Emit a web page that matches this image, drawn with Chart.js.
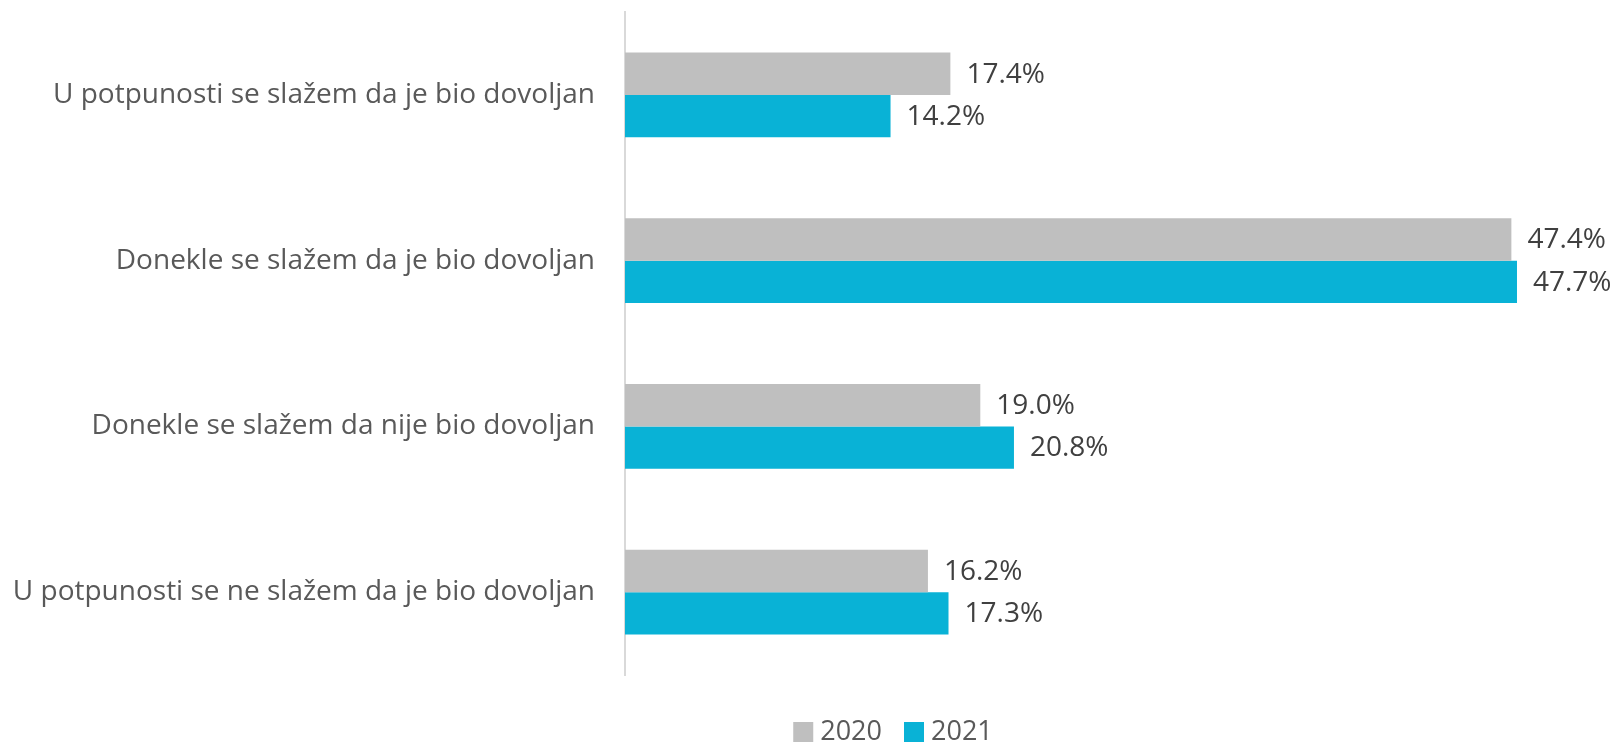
<!DOCTYPE html>
<html>
<head>
<meta charset="utf-8">
<script src="https://cdn.jsdelivr.net/npm/chart.js@4/dist/chart.umd.min.js"></script>
<style>
  html, body { margin: 0; padding: 0; background: #ffffff; }
  #wrap { width: 1617px; height: 744px; position: relative; }
</style>
</head>
<body>
<div id="wrap"><canvas id="c" width="1617" height="744"></canvas></div>
<script>
const categories = [
  "U potpunosti se slažem da je bio dovoljan",
  "Donekle se slažem da je bio dovoljan",
  "Donekle se slažem da nije bio dovoljan",
  "U potpunosti se ne slažem da je bio dovoljan"
];
const seriesNames = ["2020", "2021"];
const values2020 = [17.4, 47.4, 19.0, 16.2];
const values2021 = [14.2, 47.7, 20.8, 17.3];

const FONT = "'Open Sans', 'DejaVu Sans', sans-serif";

const valueLabels = {
  id: 'valueLabels',
  afterDatasetsDraw(chart) {
    const ctx = chart.ctx;
    ctx.save();
    ctx.font = "28px " + FONT;
    ctx.fillStyle = '#404040';
    ctx.textAlign = 'left';
    ctx.textBaseline = 'middle';
    chart.data.datasets.forEach((ds, i) => {
      const meta = chart.getDatasetMeta(i);
      meta.data.forEach((bar, j) => {
        ctx.fillText(ds.data[j].toFixed(1) + '%', bar.x + 16, bar.y + 1);
      });
    });
    ctx.restore();
  }
};

const customLegend = {
  id: 'customLegend',
  afterDraw(chart) {
    const ctx = chart.ctx;
    ctx.save();
    ctx.font = "27px " + FONT;
    ctx.textBaseline = 'middle';
    ctx.textAlign = 'left';
    const box = 20, gapText = 7, gapItem = 22;
    const items = chart.data.datasets.map(ds => ({
      text: ds.label, color: ds.backgroundColor, w: ctx.measureText(ds.label).width
    }));
    let total = 0;
    items.forEach((it, i) => { total += box + gapText + it.w + (i ? gapItem : 0); });
    const center = 893, yMid = 732;
    let x = center - total / 2;
    items.forEach(it => {
      ctx.fillStyle = it.color;
      ctx.fillRect(x, yMid - box / 2, box, box);
      x += box + gapText;
      ctx.fillStyle = '#595959';
      ctx.fillText(it.text, x, yMid);
      x += it.w + gapItem;
    });
    ctx.restore();
  }
};

new Chart(document.getElementById('c'), {
  type: 'bar',
  data: {
    labels: categories,
    datasets: [
      { label: seriesNames[0], data: values2020, backgroundColor: '#BFBFBF', borderWidth: 0 },
      { label: seriesNames[1], data: values2021, backgroundColor: '#09B2D6', borderWidth: 0 }
    ]
  },
  options: {
    indexAxis: 'y',
    responsive: false,
    animation: false,
    devicePixelRatio: 1,
    categoryPercentage: 0.51,
    barPercentage: 1.0,
    layout: { padding: { top: 12, right: 57, left: 0, bottom: 69 } },
    scales: {
      x: {
        display: false,
        min: 0,
        max: 50
      },
      y: {
        grid: { display: false, drawTicks: false },
        border: { display: true, color: '#D9D9D9', width: 2 },
        ticks: {
          padding: 30,
          color: '#595959',
          font: { family: FONT, size: 28 }
        },
        afterFit(scale) {
          scale.width = 625;
          scale.paddingTop = 0;
          scale.paddingBottom = 0;
        }
      }
    },
    plugins: {
      legend: { display: false },
      tooltip: { enabled: false }
    }
  },
  plugins: [valueLabels, customLegend]
});
</script>
</body>
</html>
